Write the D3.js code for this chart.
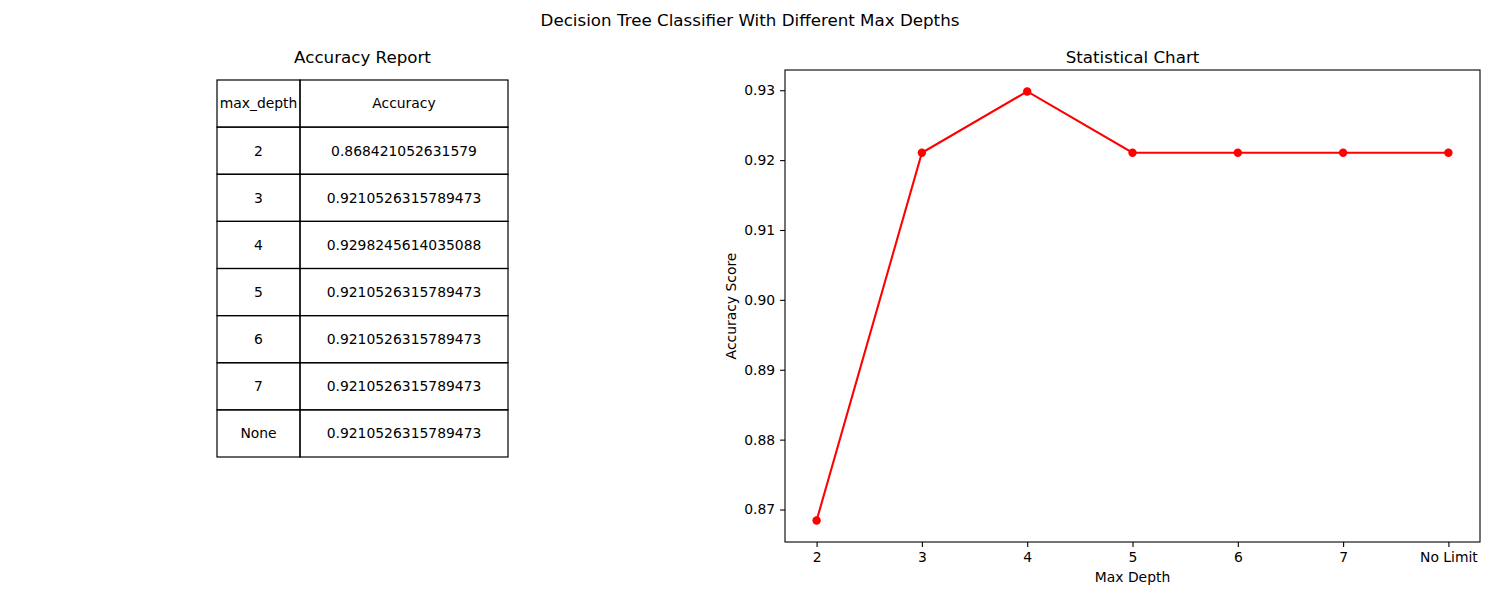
<!DOCTYPE html>
<html>
<head>
<meta charset="utf-8">
<script src="https://cdn.jsdelivr.net/npm/d3@7"></script>
<style>
  body { margin: 0; background: #fff; }
  text { font-family: "DejaVu Sans", sans-serif; fill: #000; }
</style>
</head>
<body>
<script>
// values from the accuracy report
var depths = ['2', '3', '4', '5', '6', '7', 'None'];
var depthLabels = ['2', '3', '4', '5', '6', '7', 'No Limit'];
var accuracy = [0.868421052631579, 0.9210526315789473, 0.9298245614035088,
                0.9210526315789473, 0.9210526315789473, 0.9210526315789473,
                0.9210526315789473];
var accuracyText = ['0.868421052631579', '0.9210526315789473', '0.9298245614035088',
                    '0.9210526315789473', '0.9210526315789473', '0.9210526315789473',
                    '0.9210526315789473'];
var tableHeader = ['max_depth', 'Accuracy'];
var yTicks = [0.87, 0.88, 0.89, 0.90, 0.91, 0.92, 0.93];

var width = 1500;
var height = 600;
var fontSmall = '13.9px';
var fontBig = '16.7px';

var svg = d3.select('body')
            .append('svg')
            .attr('width', width)
            .attr('height', height);

svg.append('text')
   .attr('x', 750)
   .attr('y', 26)
   .attr('text-anchor', 'middle')
   .style('font-size', fontBig)
   .text('Decision Tree Classifier With Different Max Depths');

// ---- table on the left ----
var tTop = 80, tBottom = 457;
var colX = [217, 300, 508];
var rows = [tableHeader].concat(depths.map(function(d, i) {
  return [d, accuracyText[i]];
}));
var rowY = d3.scaleBand()
             .domain(d3.range(rows.length))
             .range([tTop, tBottom]);

svg.append('text')
   .attr('x', (colX[0] + colX[2]) / 2)
   .attr('y', 63)
   .attr('text-anchor', 'middle')
   .style('font-size', fontBig)
   .text('Accuracy Report');

var table = svg.append('g');
rows.forEach(function(row, r) {
  row.forEach(function(cell, c) {
    table.append('rect')
         .attr('x', colX[c])
         .attr('y', rowY(r))
         .attr('width', colX[c + 1] - colX[c])
         .attr('height', rowY.bandwidth())
         .attr('fill', 'none')
         .attr('stroke', '#000')
         .attr('stroke-width', 1.2);
    table.append('text')
         .attr('x', (colX[c] + colX[c + 1]) / 2)
         .attr('y', rowY(r) + rowY.bandwidth() / 2)
         .attr('dy', '0.35em')
         .attr('text-anchor', 'middle')
         .style('font-size', fontSmall)
         .text(cell);
  });
});

// ---- line chart on the right ----
var pLeft = 785, pRight = 1480, pTop = 70, pBottom = 542;

var yMin = d3.min(accuracy), yMax = d3.max(accuracy);
var pad = (yMax - yMin) * 0.05;
var y = d3.scaleLinear()
          .domain([yMin - pad, yMax + pad])
          .range([pBottom, pTop]);
var x = d3.scaleLinear()
          .domain([-0.3, depthLabels.length - 1 + 0.3])
          .range([pLeft, pRight]);

svg.append('text')
   .attr('x', (pLeft + pRight) / 2)
   .attr('y', 63)
   .attr('text-anchor', 'middle')
   .style('font-size', fontBig)
   .text('Statistical Chart');

var xAxis = d3.axisBottom(x)
              .tickValues(d3.range(depthLabels.length))
              .tickFormat(function(d) { return depthLabels[d]; })
              .tickSizeInner(4.9)
              .tickSizeOuter(0)
              .tickPadding(4.9);
var yAxis = d3.axisLeft(y)
              .tickValues(yTicks)
              .tickFormat(d3.format('.2f'))
              .tickSizeInner(4.9)
              .tickSizeOuter(0)
              .tickPadding(4.9);

var gx = svg.append('g')
            .attr('transform', 'translate(0,' + pBottom + ')')
            .call(xAxis);
var gy = svg.append('g')
            .attr('transform', 'translate(' + pLeft + ',0)')
            .call(yAxis);

[gx, gy].forEach(function(g) {
  g.select('.domain').remove();
  g.selectAll('.tick line').attr('stroke', '#000').attr('stroke-width', 1.1);
  g.selectAll('.tick text')
   .style('font-family', '"DejaVu Sans", sans-serif')
   .style('font-size', fontSmall)
   .attr('fill', '#000');
});

svg.append('rect')
   .attr('x', pLeft)
   .attr('y', pTop)
   .attr('width', pRight - pLeft)
   .attr('height', pBottom - pTop)
   .attr('fill', 'none')
   .attr('stroke', '#000')
   .attr('stroke-width', 1.1);

var line = d3.line()
             .x(function(d, i) { return x(i); })
             .y(function(d) { return y(d); });

svg.append('path')
   .datum(accuracy)
   .attr('d', line)
   .attr('fill', 'none')
   .attr('stroke', 'red')
   .attr('stroke-width', 2.08);

svg.selectAll('circle.pt')
   .data(accuracy)
   .enter()
   .append('circle')
   .attr('class', 'pt')
   .attr('cx', function(d, i) { return x(i); })
   .attr('cy', function(d) { return y(d); })
   .attr('r', 4.2)
   .attr('fill', 'red');

svg.append('text')
   .attr('x', (pLeft + pRight) / 2)
   .attr('y', 582)
   .attr('text-anchor', 'middle')
   .style('font-size', fontSmall)
   .text('Max Depth');

svg.append('text')
   .attr('transform', 'translate(736,' + (pTop + pBottom) / 2 + ') rotate(-90)')
   .attr('text-anchor', 'middle')
   .style('font-size', fontSmall)
   .text('Accuracy Score');
</script>
</body>
</html>
